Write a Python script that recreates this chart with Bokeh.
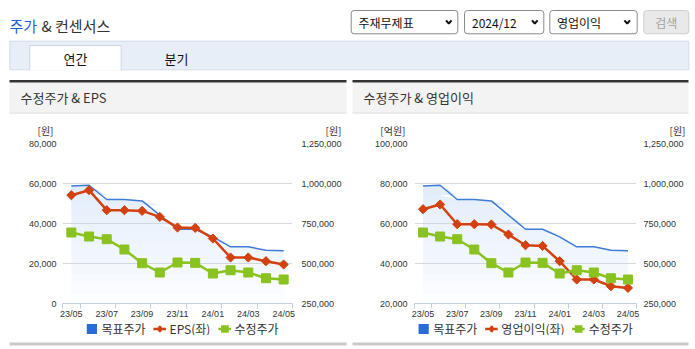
import numpy as np
from bokeh.plotting import figure
from bokeh.layouts import column, row
from bokeh.models import (Range1d, LinearAxis, FixedTicker, NumeralTickFormatter,
                          Legend, LegendItem)
from bokeh.core.properties import value
from bokeh.embed import file_html
from bokeh.resources import INLINE

# ---------------- data ----------------
months = ["23/05", "23/06", "23/07", "23/08", "23/09", "23/10", "23/11",
          "23/12", "24/01", "24/02", "24/03", "24/04", "24/05"]
target_price = [985000, 989000, 900000, 900000, 891000, 802000, 714000,
                714000, 666000, 604000, 604000, 583000, 579000]
adj_price = [693750, 668750, 651875, 587500, 501875, 443750, 506250,
             504000, 437500, 458000, 443750, 408000, 400000]
eps = [54150, 56650, 46650, 46650, 46300, 43300, 38000,
       37800, 32500, 23000, 23000, 21150, 19500]
op_profit = [67150, 69500, 59650, 59650, 59500, 54500, 49150,
             48800, 41150, 32000, 32000, 28650, 27800]

eps_ticks = [0, 20000, 40000, 60000, 80000]
op_ticks = [20000, 40000, 60000, 80000, 100000]
price_ticks = [250000, 500000, 750000, 1000000, 1250000]

KR = "Noto Sans CJK KR"
NUM = "Liberation Sans"

BLUE = "#2a6bd8"
BLUE_LINE = "#3d7bd9"
AREA = "#bcd5f4"
RED = "#d2410f"
GREEN = "#8ac220"


def blank(width, height, ymax):
    f = figure(width=width, height=height, x_range=Range1d(0, width),
               y_range=Range1d(ymax, 0), output_backend="svg", toolbar_location=None,
               min_border=0, x_axis_type=None, y_axis_type=None,
               outline_line_color=None, background_fill_color="white",
               border_fill_color="white")
    f.grid.visible = False
    return f


# ---------------- header figure ----------------
top = blank(695, 137, 137)

top.text(x=[9], y=[25], text=["주가"], text_font=value(KR), text_font_size="15px",
         text_color="#1f5fcf", text_baseline="middle", text_align="left")
top.text(x=[41], y=[25], text=["& 컨센서스"], text_font=value(KR), text_font_size="15px",
         text_color="#333333", text_baseline="middle", text_align="left")

top.quad(left=[350.7, 464, 549.3], right=[457.3, 543.3, 636.7], top=[10, 10, 10],
         bottom=[33.3, 33.3, 33.3], fill_color="white", line_color="#8a8a8a",
         line_width=1, border_radius=3)
top.text(x=[358, 471.5, 556.5], y=[22, 22, 22], text=["주재무제표", "2024/12", "영업이익"],
         text_font=value(KR), text_font_size="12px", text_color="#111111",
         text_baseline="middle", text_align="left")
top.multi_line(xs=[[445.5, 448.3, 451.1], [531.5, 534.3, 537.1], [623.9, 626.7, 629.5]],
               ys=[[19.8, 23, 19.8]] * 3, line_color="#111111", line_width=2)
top.quad(left=[643.3], right=[688.3], top=[10], bottom=[33.3], fill_color="#e9e9e9",
         line_color="#cfcfcf", border_radius=3)
top.text(x=[665.8], y=[22], text=["검색"], text_font=value(KR), text_font_size="12px",
         text_color="#a3a3a3", text_baseline="middle", text_align="center")

top.quad(left=[9.3], right=[688.3], top=[40.7], bottom=[69.3], fill_color="#e8eef8",
         line_color="#d2dae6")
top.quad(left=[29.3], right=[120.7], top=[45], bottom=[70], fill_color="white",
         line_color=None)
top.line(x=[29.3, 29.3, 120.7, 120.7], y=[70, 45, 45, 70], line_color="#cdd5e1", line_width=1)
top.text(x=[75, 176], y=[57.5, 57.5], text=["연간", "분기"], text_font=value(KR),
         text_font_size="13px", text_color="#111111", text_baseline="middle",
         text_align="center")

top.quad(left=[9, 352], right=[346, 688], top=[82, 82], bottom=[112, 112],
         fill_color="#f3f3f3", line_color=None)
top.quad(left=[9, 352], right=[346, 688], top=[79.5, 79.5], bottom=[82, 82],
         fill_color="#333333", line_color=None)
top.segment(x0=[9, 352], x1=[346, 688], y0=[112.5, 112.5], y1=[112.5, 112.5],
            line_color="#dcdcdc", line_width=1)
top.text(x=[20, 363], y=[97, 97], text=["수정주가 & EPS", "수정주가 & 영업이익"],
         text_font=value(KR), text_font_size="13px", text_color="#333333",
         text_baseline="middle", text_align="left")

top.text(x=[53, 405, 341, 685], y=[129.5] * 4, text=["[원]", "[억원]", "[원]", "[원]"],
         text_font=value(KR), text_font_size="10px", text_color="#333333",
         text_baseline="middle", text_align="right")


# ---------------- chart figures ----------------
def style_num_axis(ax, standoff):
    ax.axis_line_color = None
    ax.major_tick_line_color = None
    ax.minor_tick_line_color = None
    ax.major_tick_out = 0
    ax.major_tick_in = 0
    ax.major_label_standoff = standoff
    ax.major_label_text_font = NUM
    ax.major_label_text_font_size = "9px"
    ax.major_label_text_color = "#333333"


def make_chart(width, bl, br, left_vals, left_ticks, so_l, so_r):
    x = list(range(len(months)))
    p = figure(width=width, height=184, output_backend="svg", toolbar_location=None,
               x_range=Range1d(-0.5, len(months) - 0.5),
               y_range=Range1d(left_ticks[0], left_ticks[-1]),
               min_border_left=bl, min_border_right=br, min_border_top=6,
               min_border_bottom=18, outline_line_color=None,
               background_fill_color="white", border_fill_color="white")
    p.extra_y_ranges = {"right": Range1d(price_ticks[0], price_ticks[-1])}

    xa = p.xaxis[0]
    lab_pos = x[::2]
    xa.ticker = FixedTicker(ticks=lab_pos, minor_ticks=[-0.5] + [i + 0.5 for i in lab_pos])
    xa.major_label_overrides = {i: months[i] for i in lab_pos}
    xa.major_tick_line_color = None
    xa.major_tick_in = 0
    xa.major_tick_out = 0
    xa.minor_tick_in = 0
    xa.minor_tick_out = 5
    xa.minor_tick_line_color = "#c3cfdf"
    xa.axis_line_color = "#c3cfdf"
    xa.major_label_standoff = 0
    xa.major_label_text_font = NUM
    xa.major_label_text_font_size = "9px"
    xa.major_label_text_color = "#333333"

    ya = p.yaxis[0]
    ya.ticker = FixedTicker(ticks=left_ticks)
    ya.formatter = NumeralTickFormatter(format="0,0")
    style_num_axis(ya, so_l)

    ra = LinearAxis(y_range_name="right", ticker=FixedTicker(ticks=price_ticks),
                    formatter=NumeralTickFormatter(format="0,0"))
    style_num_axis(ra, so_r)
    p.add_layout(ra, "right")

    p.xgrid.visible = False
    p.ygrid.ticker = FixedTicker(ticks=left_ticks)
    p.ygrid.grid_line_color = "#d9d9d9"

    # target price area, shaded as a vertical gradient (bands of the same area)
    tp = np.array(target_price, dtype=float)
    edges = np.linspace(price_ticks[0], max(target_price), 13)
    for k in range(len(edges) - 1):
        lo, hi = edges[k], edges[k + 1]
        frac = (k + 0.5) / (len(edges) - 1)
        p.varea(x=x, y1=np.full(len(x), lo), y2=np.clip(tp, lo, hi), y_range_name="right",
                fill_color=AREA, fill_alpha=0.04 + 0.4 * frac)
    p.line(x, target_price, y_range_name="right", line_color=BLUE_LINE, line_width=1.5)

    p.line(x, left_vals, line_color=RED, line_width=2.5)
    p.scatter(x, left_vals, marker="square", angle=0.785398, size=6.5, fill_color=RED,
              line_color=RED)

    p.line(x, adj_price, y_range_name="right", line_color=GREEN, line_width=2.5)
    p.scatter(x, adj_price, y_range_name="right", marker="square", size=9,
              fill_color=GREEN, line_color=GREEN)
    return p


def make_legend(width, bl, br, left_label):
    f = figure(width=width, height=14, x_range=Range1d(0, 1), y_range=Range1d(0, 1),
               output_backend="svg", toolbar_location=None, min_border_left=bl,
               min_border_right=br, min_border_top=0, min_border_bottom=0,
               x_axis_type=None, y_axis_type=None, outline_line_color=None,
               background_fill_color="white", border_fill_color="white")
    f.grid.visible = False
    off = [5]  # legend-only glyphs, kept outside the visible range
    d_blue = f.scatter(off, off, marker="square", fill_color=BLUE, line_color=BLUE,
                       line_width=5, line_join="miter")
    d_rl = f.line(off, off, line_color=RED, line_width=2.5)
    d_red = f.scatter(off, off, marker="diamond", fill_color=RED, line_color=RED,
                      line_width=2)
    d_gl = f.line(off, off, line_color=GREEN, line_width=2.5)
    d_green = f.scatter(off, off, marker="square", fill_color=GREEN, line_color=GREEN,
                        line_width=2.5, line_join="miter")
    leg = Legend(items=[LegendItem(label="목표주가", renderers=[d_blue]),
                        LegendItem(label=left_label, renderers=[d_rl, d_red]),
                        LegendItem(label="수정주가", renderers=[d_gl, d_green])],
                 orientation="horizontal", location="center",
                 glyph_width=13, glyph_height=14, label_standoff=4, spacing=7,
                 padding=0, margin=0, label_height=14,
                 label_text_font=KR, label_text_font_size="12px",
                 label_text_color="#333333", border_line_color=None,
                 background_fill_alpha=0)
    f.add_layout(leg)
    return f


left = make_chart(348, 62, 56, eps, eps_ticks, 6, 9)
right = make_chart(347, 66, 59, op_profit, op_ticks, 7, 7)
leg_l = make_legend(348, 15, 0, "EPS(좌)")
leg_r = make_legend(347, 6, 0, "영업이익(좌)")

bot = blank(695, 14, 14)
bot.quad(left=[9, 352], right=[346, 688], top=[7, 7], bottom=[10, 10],
         fill_color="#c9c9c9", line_color=None)

page = column(top, row(left, right), row(leg_l, leg_r), bot)
open("out.html", "w").write(file_html(page, INLINE))
